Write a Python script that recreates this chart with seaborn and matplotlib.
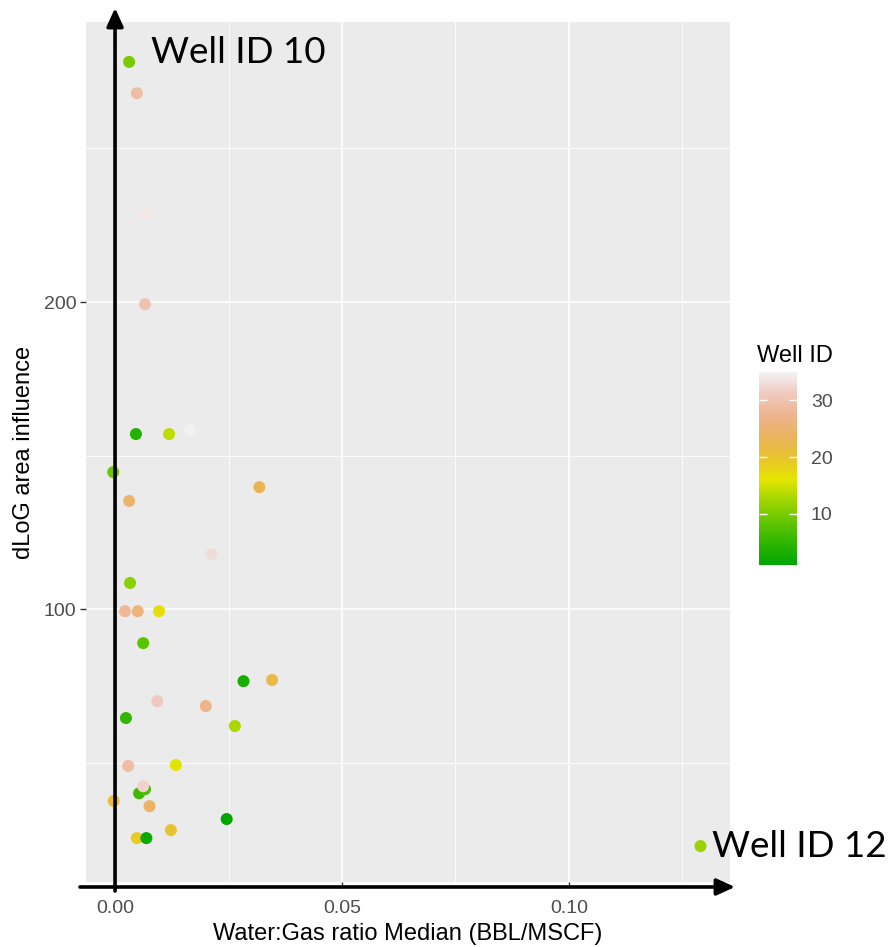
import colorsys
import numpy as np
import pandas as pd
import matplotlib
matplotlib.use("Agg")
import matplotlib.pyplot as plt
from matplotlib.colors import LinearSegmentedColormap, Normalize
from matplotlib.cm import ScalarMappable
import seaborn as sns

# Values.
wgr_median = [0.0031, 0.0048, 0.0068, 0.0066, 0.0046, 0.0119, 0.0165, -0.0004,
              0.0031, 0.0318, 0.0213, 0.0033, 0.0022, 0.0050, 0.0097, 0.0062,
              0.0283, 0.0346, 0.0093, 0.0200, 0.0024, 0.0264, 0.0029, 0.0134,
              0.0053, 0.0066, 0.0062, -0.0003, 0.0076, 0.0246, 0.0123, 0.0048,
              0.0069, 0.1290]
dlog_area = [278.2, 268.0, 228.7, 199.3, 157.0, 157.0, 158.3, 144.6,
             135.2, 139.7, 117.9, 108.5, 99.3, 99.3, 99.3, 88.9,
             76.5, 76.9, 70.0, 68.4, 64.5, 61.9, 48.9, 49.2,
             40.0, 41.3, 42.3, 37.5, 35.8, 31.6, 28.0, 25.4,
             25.4, 22.8]
well_id = [10, 29, 34, 30, 4, 14, 35, 9,
           25, 23, 33, 11, 28, 26, 17, 8,
           3, 22, 31, 27, 5, 13, 29, 16,
           6, 7, 32, 21, 24, 1, 20, 19,
           2, 12]
x_ticks = [0.00, 0.05, 0.10]
y_ticks = [100, 200]
cbar_ticks = [10, 20, 30]
callout_ids = [10, 12]

df = pd.DataFrame({"wgr": wgr_median, "dlog": dlog_area, "well": well_id})

# R's terrain.colors(10)
def terrain_colors(n):
    k = n // 2
    first = [colorsys.hsv_to_rgb(h, 1, v)
             for h, v in zip(np.linspace(4/12, 2/12, k), np.linspace(0.65, 0.9, k))]
    rest = [colorsys.hsv_to_rgb(h, s, v)
            for h, s, v in zip(np.linspace(2/12, 0, n - k + 1),
                               np.linspace(1, 0, n - k + 1),
                               np.linspace(0.9, 0.95, n - k + 1))][1:]
    return first + rest

cmap = LinearSegmentedColormap.from_list("terrain10", terrain_colors(10))
norm = Normalize(1, 35)

plt.rcParams["font.family"] = ["Liberation Sans", "DejaVu Sans"]

fig = plt.figure(figsize=(8.92, 9.47), dpi=100)
ax = fig.add_axes([86/892, 1 - 882/947, 644/892, 860/947])
ax.set_facecolor("#EBEBEB")

sns.scatterplot(data=df, x="wgr", y="dlog", hue="well", palette=cmap, hue_norm=norm,
                s=75, linewidth=0, legend=False, ax=ax, zorder=3)

ax.set_xlim(-0.0064, 0.1355)
ax.set_ylim(11.1, 291.2)
ax.set_xticks(x_ticks)
ax.set_xticklabels(["%.2f" % t for t in x_ticks])
ax.set_yticks(y_ticks)
ax.set_xticks([0.025, 0.075, 0.125], minor=True)
ax.set_yticks([50, 150, 250], minor=True)
ax.grid(which="major", color="white", lw=1.2, zorder=0)
ax.grid(which="minor", color="white", lw=0.6, zorder=0)
ax.set_axisbelow(True)
for sp in ax.spines.values():
    sp.set_visible(False)
ax.tick_params(which="major", length=4, width=1, color="#333333",
               labelcolor="#4D4D4D", labelsize=14, pad=3)
ax.tick_params(axis="x", which="major", pad=9)
ax.tick_params(which="minor", length=0)

ax.set_xlabel("Water:Gas ratio Median (BBL/MSCF)", fontsize=17, color="black", labelpad=4)
ax.set_ylabel("dLoG area influence", fontsize=17, color="black", labelpad=6)

# black arrows drawn over the axes
arrow = dict(arrowstyle="-|>,head_length=1.1,head_width=0.5", lw=2.6, color="black",
             shrinkA=0, shrinkB=0)
ax.annotate("", xy=(0, 1.0163), xytext=(0, -0.0105), xycoords=ax.get_xaxis_transform(),
            arrowprops=arrow, annotation_clip=False, zorder=5)
ax.annotate("", xy=(1.0078, -0.0058), xytext=(-0.0093, -0.0058), xycoords="axes fraction",
            arrowprops=arrow, annotation_clip=False, zorder=5)

# call-out labels
offsets = {10: (16, -0.5), 12: (8, -8)}
for wid in callout_ids:
    row = df[df["well"] == wid].iloc[0]
    ax.annotate("Well ID %d" % wid, xy=(row["wgr"], row["dlog"]), xytext=offsets[wid],
                textcoords="offset points", fontsize=26.5, family=["Lato", "DejaVu Sans"],
                va="baseline", ha="left", color="black", annotation_clip=False, zorder=6)

# colour bar
cax = fig.add_axes([759/892, 1 - 565/947, 38/892, 193/947])
cb = fig.colorbar(ScalarMappable(norm=norm, cmap=cmap), cax=cax, ticks=cbar_ticks)
cb.outline.set_visible(False)
cax.tick_params(direction="in", left=True, right=True, color="white", length=6, width=1,
                labelcolor="#4D4D4D", labelsize=14, pad=10)
cax.set_title("Well ID", fontsize=17, loc="left", pad=7, x=-0.05)

fig.savefig("out.png", dpi=100, facecolor="white")
